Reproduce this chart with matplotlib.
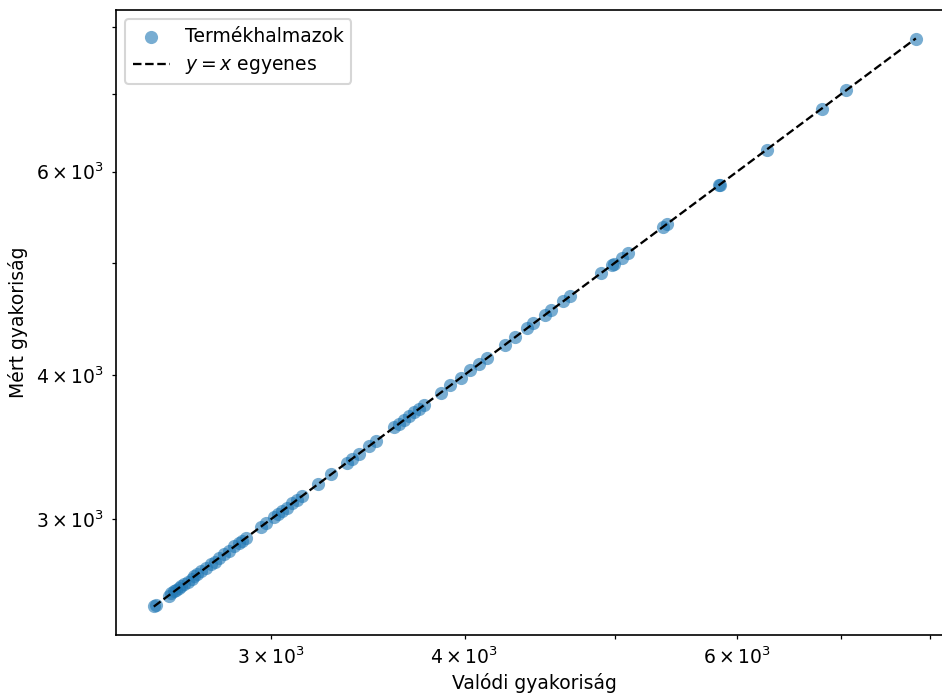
import matplotlib
matplotlib.use("Agg")
import matplotlib.pyplot as plt

# Valódi (true) és mért (measured) gyakoriságok termékhalmazonként
valodi = [2519, 2527, 2576, 2586, 2595, 2605, 2614, 2624, 2634, 2650,
          2666, 2676, 2686, 2704, 2722, 2742, 2758, 2775, 2796, 2817,
          2838, 2859, 2872, 2889, 2954, 2976, 3012, 3030, 3048, 3071,
          3094, 3117, 3140, 3216, 3279, 3358, 3383, 3419, 3470, 3507,
          3602, 3629, 3656, 3684, 3711, 3739, 3767, 3863, 3916, 3980,
          4034, 4089, 4138, 4250, 4314, 4392, 4431, 4505, 4552, 4634,
          4676, 4902, 4978, 4993, 5052, 5098, 5371, 5403, 5838, 5847,
          6269, 6807, 7055, 7828]
mert = [2521, 2525, 2574, 2588, 2597, 2603, 2612, 2626, 2636, 2648,
        2664, 2678, 2688, 2702, 2720, 2744, 2756, 2773, 2798, 2815,
        2840, 2857, 2874, 2891, 2952, 2978, 3010, 3032, 3050, 3069,
        3096, 3115, 3142, 3214, 3281, 3356, 3385, 3417, 3472, 3505,
        3604, 3627, 3658, 3682, 3713, 3737, 3769, 3861, 3918, 3978,
        4036, 4087, 4140, 4248, 4316, 4390, 4433, 4503, 4554, 4632,
        4678, 4900, 4980, 4991, 5054, 5096, 5373, 5401, 5840, 5845,
        6271, 6805, 7057, 7826]

plt.rcParams["font.size"] = 9

fig = plt.figure(figsize=(942 / 150, 693 / 150), dpi=150)
ax = fig.add_axes([0.1228, 0.0837, 0.8899, 0.9019])

ax.scatter(valodi, mert, s=40, alpha=0.6, color="tab:blue", linewidths=0,
           label="Termékhalmazok")

lo = min(min(valodi), min(mert))
hi = max(max(valodi), max(mert))
ax.plot([lo, hi], [lo, hi], "k--", linewidth=1.1, label="$y = x$ egyenes")

ax.set_xscale("log")
ax.set_yscale("log")
ax.set_xlabel("Valódi gyakoriság", labelpad=2.5)
ax.set_ylabel("Mért gyakoriság")
ax.legend(loc="upper left")

fig.savefig("out.png", dpi=150)
